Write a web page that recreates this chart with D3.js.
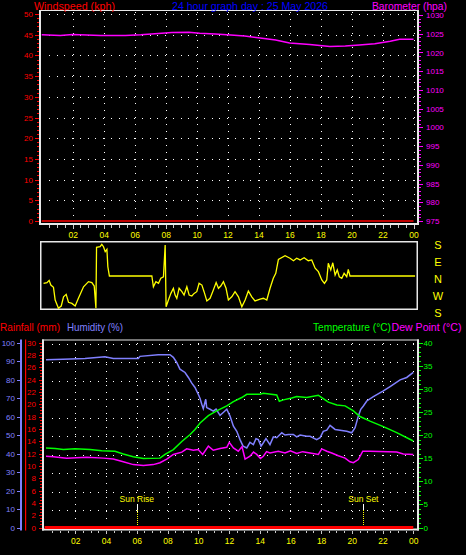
<!DOCTYPE html>
<html><head><meta charset="utf-8">
<script src="https://cdn.jsdelivr.net/npm/d3@7"></script>
<style>
html,body{margin:0;padding:0;background:#000;overflow:hidden}
svg{display:block}
text{font-family:"Liberation Sans",Arial,sans-serif}
</style>
</head><body>
<svg id="c" width="466" height="555"></svg>
<script>
// ---------------- DATA ----------------
const hourTicks = [2,4,6,8,10,12,14,16,18,20,22,24];
const hourLabels = ["02","04","06","08","10","12","14","16","18","20","22","00"];

const windTicks = [0,5,10,15,20,25,30,35,40,45,50];
const baroTicks = [975,980,985,990,995,1000,1005,1010,1015,1020,1025,1030];
const humTicks = [0,10,20,30,40,50,60,70,80,90,100];
const rainTicks = [0,2,4,6,8,10,12,14,16,18,20,22,24,26,28,30];
const tempTicks = [0,5,10,15,20,25,30,35,40];
const dirLetters = ["S","E","N","W","S"];
const dirLetterValues = [180,90,0,-90,-180];

const windHours = [0,24];
const windSpeed = [0,0];

const baroHours = [0,1.2,2,3.8,5.4,6.4,7.3,8.4,9.5,10.2,11.2,12.2,13.1,14.1,15.1,16,17.3,18.6,19.6,20.5,21.5,22.5,23.1,24];
const baroValues = [1024.7,1024.5,1024.8,1024.5,1024.5,1024.7,1025.0,1025.3,1025.4,1025.1,1024.9,1024.65,1024.4,1023.85,1023.3,1022.5,1022.1,1021.6,1021.7,1022.0,1022.3,1023.0,1023.5,1023.5];

const dirHours = [0.12,0.34,0.48,0.59,0.76,0.87,1.08,1.26,1.41,1.58,
  1.73,1.95,2.16,2.37,2.70,3.02,3.24,3.39,3.50,3.54,
  3.77,3.88,3.99,4.10,4.21,4.27,4.37,7.11,7.21,7.37,
  7.54,7.69,7.86,7.97,8.03,8.18,8.34,8.50,8.61,8.72,
  8.87,9.05,9.19,9.37,9.52,9.69,9.84,10.01,10.16,10.34,
  10.48,10.66,10.87,11.08,11.26,11.41,11.56,11.73,11.90,12.05,
  12.27,12.48,12.70,12.92,13.13,13.34,13.56,13.77,14.10,14.31,
  14.53,14.74,14.95,15.11,15.28,15.71,16.03,16.25,16.46,16.68,
  16.94,17.21,17.43,17.65,17.86,18.08,18.25,18.40,18.50,18.66,
  18.79,18.94,19.08,19.21,19.37,19.52,19.69,19.79,19.90,24.1];
const dirDegrees = [-39,-35,-23,-48,-60,-127,-171,-159,-110,-97,
  -139,-145,-159,-118,-57,-30,-35,-53,-171,152,
  155,168,155,129,141,49,0,0,-57,-30,
  -39,-12,-4,164,-163,-127,-92,-65,-101,-118,
  -65,-83,-101,-57,-101,-106,-92,-83,-39,-48,
  -83,-132,-118,-74,-35,-65,-53,-30,-65,-127,
  -110,-83,-110,-163,-127,-79,-110,-132,-123,-118,
  -127,-65,-12,14,88,107,94,81,94,85,
  97,81,85,41,23,-21,-39,-21,67,32,
  70,5,32,-4,-12,14,-4,35,0,0];

const rainHours = [0,24];
const rainValues = [0,0];

const humHours = [0.09,1.2,2.63,3.93,4.47,6.1,6.21,7.4,8.16,8.38,8.6,8.81,9.14,9.36,9.58,9.79,10.0,10.12,10.23,10.33,10.49,10.55,10.77,10.98,11.16,11.42,11.61,11.86,12.07,12.29,12.51,12.72,12.92,13.16,13.37,13.59,13.76,13.91,14.09,14.24,14.41,14.67,14.89,15.11,15.44,15.65,15.87,16.19,16.41,16.63,17.06,17.28,17.71,17.93,18.04,18.14,18.37,18.58,18.91,19.23,19.67,19.99,20.21,20.42,20.58,20.75,20.97,21.4,22.05,22.49,23.14,23.57,24.0];
const humValues = [90.7,90.9,91.4,92.3,91.4,91.4,92.5,93.4,93.4,92,89.2,85.6,83.8,81.1,78,75.7,72,69.7,66.6,64.2,69.3,64.8,63.9,62.9,64,60.6,62,63.9,60.2,54.8,52,47.5,44,43,46,44.8,48,47.5,44,45.8,48,44.8,49,48.5,51.2,50,50.3,50.3,49,50,49.3,49.3,47.5,48.5,50.3,52,52.6,55.2,53,52.6,52,51.2,53.9,60.2,63.9,65.7,68.4,70.8,73.8,76.2,79.8,81.1,83.8];

const tempHours = [0.09,0.68,1.22,1.98,2.96,3.72,4.58,5.12,5.77,6.43,7.51,7.84,8.38,8.93,9.47,9.79,10.12,10.66,11.2,11.86,12.29,12.83,13.16,14.02,14.24,15.11,15.28,15.54,16.09,16.41,17.06,17.82,18.04,18.47,19.02,19.56,20.1,20.53,21.18,22.05,22.92,24.0];
const tempValues = [17.2,17.1,16.85,17.0,16.85,16.6,16.5,15.9,15.3,14.9,15.0,15.8,16.85,18.6,20.1,21.2,22.6,24.2,25.2,26.3,27.2,28.1,28.8,28.8,29.0,28.65,27.3,27.6,28.0,28.3,28.1,28.6,28.1,27.1,26.5,26.3,25.2,24.0,23.0,21.8,20.5,18.7];

const dewHours = [0.09,0.57,1.44,2.74,3.82,4.47,5.12,5.77,6.43,7.08,7.51,7.95,8.38,8.93,9.25,9.68,10.0,10.29,10.66,10.98,11.42,11.86,12.02,12.29,12.61,12.85,13.05,13.37,13.6,13.81,14.05,14.24,14.45,14.67,15.21,15.65,16.0,16.41,16.8,17.28,17.82,18.04,18.37,18.69,19.12,19.56,19.88,20.1,20.42,20.71,21.19,22.92,23.35,24.0];
const dewValues = [15.4,15.3,15.0,15.2,15.0,14.8,14.2,13.6,13.4,13.6,14.0,14.8,15.8,16.3,17.0,16.7,16.85,15.8,17.6,16.7,17.1,17.35,18.4,17.2,16.5,17.5,14.8,15.4,16.3,15.8,14.9,15.4,16.4,16.1,16.5,16.1,16.6,16.0,16.4,16.1,15.8,17.0,16.5,16.1,15.5,15.0,14.2,14.0,14.7,16.5,16.5,16.3,15.9,15.8];

const sunNames = ["Sun Rise","Sun Set"];
const sunHours = [6,20.75];

// ---------------- SETUP ----------------
const svg = d3.select("#c");
svg.append("rect").attr("width",466).attr("height",555).attr("fill","#000");

const FRAME = "#e8e8e8";
const RED = "#ff0000", MAG = "#ff00ff", YEL = "#ffff00", GRN = "#00ff00", BLU = "#8080ff", TBLUE = "#0000ff";

const xTop = d3.scaleLinear().domain([0,24]).range([41.7,413.5]);
const yWind = d3.scaleLinear().domain([0,50]).range([221,14]);
const yBaro = d3.scaleLinear().domain([975,1030]).range([221,15]);
const yDir = d3.scaleLinear().domain([-180,180]).range([310,242]);
const xBot = d3.scaleLinear().domain([0,24]).range([44.6,413.3]);
const yHum = d3.scaleLinear().domain([0,100]).range([527.5,342.5]);
const yRain = d3.scaleLinear().domain([0,30]).range([527.5,342.5]);
const yTemp = d3.scaleLinear().domain([0,40]).range([527.5,342.5]);

function styleAxis(g, color, size){
  g.attr("font-family",'"Liberation Sans",Arial,sans-serif').attr("font-size",size);
  g.select(".domain").remove();
  g.selectAll("line").attr("stroke",color).attr("shape-rendering","crispEdges");
  g.selectAll("text").attr("fill",color);
}
function txt(x,y,s,color,size,anchor,len){
  const t = svg.append("text").attr("x",x).attr("y",y).attr("fill",color)
    .attr("font-size",size).attr("text-anchor",anchor||"start").text(s);
  if(len) t.attr("textLength",len).attr("lengthAdjust","spacingAndGlyphs");
  return t;
}

// ---------------- TOP CHART ----------------
const gridTop = svg.append("g").attr("stroke","#fff").attr("stroke-width",1).attr("shape-rendering","crispEdges");
const halfTop = xTop(0.5)-xTop(0);
gridTop.selectAll("line.h").data(windTicks.filter(d=>d>0)).join("line").attr("class","h")
  .attr("x1",xTop(0.5)-0.5).attr("x2",417).attr("y1",d=>Math.round(yWind(d))+0.5).attr("y2",d=>Math.round(yWind(d))+0.5)
  .attr("stroke-dasharray",`1 ${halfTop-1}`);
gridTop.selectAll("line.v").data(hourTicks).join("line").attr("class","v")
  .attr("x1",d=>Math.round(xTop(d))+0.5).attr("x2",d=>Math.round(xTop(d))+0.5).attr("y1",12).attr("y2",219)
  .attr("stroke-dasharray","1 6");

// frame
svg.append("rect").attr("x",40).attr("y",10).attr("width",379).attr("height",1).attr("fill",FRAME);
svg.append("rect").attr("x",417).attr("y",10).attr("width",2).attr("height",215).attr("fill",FRAME);
svg.append("rect").attr("x",39).attr("y",10).attr("width",2).attr("height",215).attr("fill",FRAME);
svg.append("rect").attr("x",39).attr("y",223).attr("width",380).attr("height",2).attr("fill",FRAME);

// left wind axis
const gw1 = svg.append("g").attr("transform","translate(39,0)")
  .call(d3.axisLeft(yWind).tickValues(d3.range(0,51,1)).tickSize(2).tickFormat(""));
styleAxis(gw1,RED,8);
const gw = svg.append("g").attr("transform","translate(39,0)")
  .call(d3.axisLeft(yWind).tickValues(windTicks).tickSize(4).tickPadding(2));
styleAxis(gw,RED,8);

// right baro axis
const gb1 = svg.append("g").attr("transform","translate(419,0)")
  .call(d3.axisRight(yBaro).tickValues(d3.range(975,1031,1)).tickSize(2).tickFormat(""));
styleAxis(gb1,MAG,8);
const gb = svg.append("g").attr("transform","translate(419,0)")
  .call(d3.axisRight(yBaro).tickValues(baroTicks).tickSize(4).tickPadding(3).tickFormat(d3.format("d")));
styleAxis(gb,MAG,8);

// x axis top
const gx1 = svg.append("g").attr("transform","translate(0,225)")
  .call(d3.axisBottom(xTop).tickValues(d3.range(0.5,24.01,0.5)).tickSize(2.5).tickFormat(""));
styleAxis(gx1,"#c8c8c8",8);
const gx = svg.append("g").attr("transform","translate(0,225)")
  .call(d3.axisBottom(xTop).tickValues(hourTicks).tickSize(3.5).tickPadding(3.5).tickFormat((d,i)=>hourLabels[i]));
styleAxis(gx,"#c8c8c8",8.5);
gx.selectAll("text").attr("fill",YEL);

// series
svg.append("path").datum(windHours.map((h,i)=>[h,windSpeed[i]]))
  .attr("d",d3.line().x(d=>xTop(d[0])).y(d=>yWind(d[1])))
  .attr("fill","none").attr("stroke",RED).attr("stroke-width",1.5);
svg.append("path").datum(baroHours.map((h,i)=>[h,baroValues[i]]))
  .attr("d",d3.line().x(d=>xTop(d[0])).y(d=>yBaro(d[1])))
  .attr("fill","none").attr("stroke",MAG).attr("stroke-width",1.5);

// titles
txt(34,9.5,"Windspeed (kph)",RED,11,"start",81);
txt(172,9.5,"24 hour graph day : 25 May 2026",TBLUE,11,"start",156);
txt(372,9.5,"Barometer (hpa)",MAG,11,"start",75);

// ---------------- WIND DIRECTION ----------------
svg.append("rect").attr("x",40.75).attr("y",241.75).attr("width",376.5).attr("height",67.5)
  .attr("fill","none").attr("stroke",FRAME).attr("stroke-width",1.5);
svg.append("path").datum(dirHours.map((h,i)=>[h,dirDegrees[i]]))
  .attr("d",d3.line().x(d=>xTop(d[0])).y(d=>yDir(d[1])))
  .attr("fill","none").attr("stroke",YEL).attr("stroke-width",1.3);
svg.append("g").selectAll("text").data(dirLetters).join("text")
  .attr("x",438).attr("y",(d,i)=>yDir(dirLetterValues[i])+7).attr("text-anchor","middle")
  .attr("fill",YEL).attr("font-size",11).text(d=>d);

// ---------------- BOTTOM CHART ----------------
const gridBot = svg.append("g").attr("stroke","#fff").attr("stroke-width",1).attr("shape-rendering","crispEdges");
const halfBot = xBot(0.5)-xBot(0);
gridBot.selectAll("line.h").data(humTicks.filter(d=>d>0)).join("line").attr("class","h")
  .attr("x1",xBot(0.5)-0.5).attr("x2",417).attr("y1",d=>Math.round(yHum(d))+1.5).attr("y2",d=>Math.round(yHum(d))+1.5)
  .attr("stroke-dasharray",`1 ${halfBot-1}`);
gridBot.selectAll("line.v").data(hourTicks).join("line").attr("class","v")
  .attr("x1",d=>Math.round(xBot(d))+0.5).attr("x2",d=>Math.round(xBot(d))+0.5).attr("y1",343).attr("y2",522)
  .attr("stroke-dasharray","1 6");

// frame
svg.append("rect").attr("x",42).attr("y",339.5).attr("width",377).attr("height",1).attr("fill",FRAME);
svg.append("rect").attr("x",42).attr("y",339.5).attr("width",2).attr("height",191).attr("fill",FRAME);
svg.append("rect").attr("x",417).attr("y",339.5).attr("width",2).attr("height",191).attr("fill",FRAME);
svg.append("rect").attr("x",42).attr("y",528.5).attr("width",377).attr("height",2).attr("fill",FRAME);

// humidity axis (blue)
svg.append("rect").attr("x",20).attr("y",339.5).attr("width",2).attr("height",191).attr("fill",BLU);
const gh = svg.append("g").attr("transform","translate(20,0)")
  .call(d3.axisLeft(yHum).tickValues(humTicks).tickSize(3).tickPadding(2));
styleAxis(gh,BLU,8);

// rainfall axis (red)
svg.append("rect").attr("x",25).attr("y",339.5).attr("width",1.2).attr("height",191).attr("fill",RED);
const gr1 = svg.append("g").attr("transform","translate(42,0)")
  .call(d3.axisLeft(yRain).tickValues(d3.range(0,30.01,0.5)).tickSize(2).tickFormat(""));
styleAxis(gr1,RED,8);
const gr = svg.append("g").attr("transform","translate(42,0)")
  .call(d3.axisLeft(yRain).tickValues(rainTicks).tickSize(3).tickPadding(3));
styleAxis(gr,RED,8);

// temperature axis (green)
const gt1 = svg.append("g").attr("transform","translate(419,0)")
  .call(d3.axisRight(yTemp).tickValues(d3.range(0,41,1)).tickSize(2).tickFormat(""));
styleAxis(gt1,GRN,8);
const gt = svg.append("g").attr("transform","translate(419,0)")
  .call(d3.axisRight(yTemp).tickValues(tempTicks).tickSize(3.5).tickPadding(1));
styleAxis(gt,GRN,8);

// x axis bottom
const gbx1 = svg.append("g").attr("transform","translate(0,530.5)")
  .call(d3.axisBottom(xBot).tickValues(d3.range(0.5,24.01,0.5)).tickSize(2.5).tickFormat(""));
styleAxis(gbx1,"#c8c8c8",8);
const gbx = svg.append("g").attr("transform","translate(0,530.5)")
  .call(d3.axisBottom(xBot).tickValues(hourTicks).tickSize(3.5).tickPadding(3.5).tickFormat((d,i)=>hourLabels[i]));
styleAxis(gbx,"#c8c8c8",8.5);
gbx.selectAll("text").attr("fill",YEL);

// sun rise / set
sunHours.forEach((h,i)=>{
  const x = Math.round(xBot(h))+0.5;
  svg.append("line").attr("x1",x).attr("x2",x).attr("y1",504).attr("y2",510).attr("stroke","#fff").attr("stroke-width",1);
  svg.append("line").attr("x1",x).attr("x2",x).attr("y1",510).attr("y2",527).attr("stroke",YEL).attr("stroke-width",1).attr("stroke-dasharray","1 1");
  txt(xBot(h),501.5,sunNames[i],YEL,8.5,"middle");
});

// series
svg.append("path").datum(humHours.map((h,i)=>[h,humValues[i]]))
  .attr("d",d3.line().x(d=>xBot(d[0])).y(d=>yHum(d[1])))
  .attr("fill","none").attr("stroke",BLU).attr("stroke-width",1.5);
svg.append("path").datum(tempHours.map((h,i)=>[h,tempValues[i]]))
  .attr("d",d3.line().x(d=>xBot(d[0])).y(d=>yTemp(d[1])))
  .attr("fill","none").attr("stroke",GRN).attr("stroke-width",1.5);
svg.append("path").datum(dewHours.map((h,i)=>[h,dewValues[i]]))
  .attr("d",d3.line().x(d=>xBot(d[0])).y(d=>yTemp(d[1])))
  .attr("fill","none").attr("stroke",MAG).attr("stroke-width",1.5);
svg.append("path").datum(rainHours.map((h,i)=>[h,rainValues[i]]))
  .attr("d",d3.line().x(d=>xBot(d[0])).y(d=>yRain(d[1])))
  .attr("fill","none").attr("stroke",RED).attr("stroke-width",3);

// titles
txt(0,331,"Rainfall (mm)",RED,11,"start",60);
txt(67,331,"Humidity (%)",BLU,11,"start",56);
txt(313,331,"Temperature (°C)",GRN,11,"start",78);
txt(391.5,331,"Dew Point (°C)",MAG,11,"start",70);
</script>
</body></html>
